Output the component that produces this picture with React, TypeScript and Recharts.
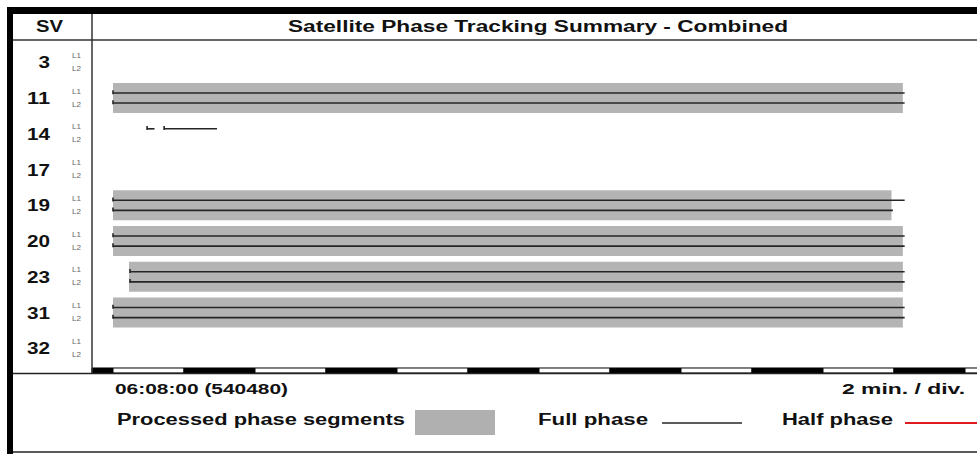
import React from "react";
import { ComposedChart, XAxis, YAxis, ReferenceArea, ReferenceLine } from "recharts";

// satellites listed in the SV column, top to bottom
const svList = [3, 11, 14, 17, 19, 20, 23, 31, 32];

// processed phase segments, minutes after 06:08:00
const processedSv = [11, 19, 20, 23, 31];
const processedStart = [0, 0, 0, 0.45, 0];
const processedEnd = [22.25, 21.93, 22.25, 22.25, 22.25];

// full phase tracking per frequency, minutes after 06:08:00
const fullSv = [11, 11, 14, 14, 19, 19, 20, 20, 23, 23, 31, 31];
const fullBand = ["L1", "L2", "L1", "L1", "L1", "L2", "L1", "L2", "L1", "L2", "L1", "L2"];
const fullStart = [0, 0, 0.96, 1.44, 0, 0, 0, 0, 0.48, 0.48, 0, 0];
const fullEnd = [22.3, 22.3, 1.17, 2.93, 22.3, 21.97, 22.3, 22.3, 22.3, 22.3, 22.3, 22.3];

// half phase tracking (none in this session)
const halfSv: number[] = [];
const halfBand: string[] = [];
const halfStart: number[] = [];
const halfEnd: number[] = [];

// time divisions, 2 minutes each
const timeTicks = [0, 2, 4, 6, 8, 10, 12, 14, 16, 18, 20, 22, 24];
const startLabel = "06:08:00 (540480)";
const divLabel = "2 min. / div.";

const X_DOMAIN: [number, number] = [-0.5915, 24.5635];
const Y_DOMAIN: [number, number] = [-0.596, 8.69];
const STRIP = [8.55, 8.69];
const BAR_HALF = 0.42;
const BAND_OFFSET = 0.14;

const FONT = "'Liberation Sans', Arial, sans-serif";
const INK = "#111";
const SEGMENT_GRAY = "#b4b4b4";

const rowOf = (sv: number) => svList.indexOf(sv);
const bandY = (sv: number, band: string) => rowOf(sv) + (band === "L1" ? -BAND_OFFSET : BAND_OFFSET);

function SvTick({ y, payload }: any) {
  const label = String(svList[payload.value]);
  return (
    <g>
      <text
        x={50}
        y={y + 6}
        textAnchor="end"
        fontFamily={FONT}
        fontWeight="bold"
        fontSize={16}
        fill={INK}
        textLength={label.length * 11.5}
        lengthAdjust="spacingAndGlyphs"
      >
        {label}
      </text>
      <text x={72} y={y - 4.5} fontFamily={FONT} fontSize={7} fill="#666" textLength={9} lengthAdjust="spacingAndGlyphs">
        L1
      </text>
      <text x={72} y={y + 8.5} fontFamily={FONT} fontSize={7} fill="#666" textLength={9} lengthAdjust="spacingAndGlyphs">
        L2
      </text>
    </g>
  );
}

function Label({ x, y, w, size = 16, children }: any) {
  return (
    <text
      x={x}
      y={y}
      fontFamily={FONT}
      fontWeight="bold"
      fontSize={size}
      fill={INK}
      textLength={w}
      lengthAdjust="spacingAndGlyphs"
    >
      {children}
    </text>
  );
}

function phaseLines(sv: number[], band: string[], start: number[], end: number[], color: string, key: string) {
  return sv.flatMap((s, i) => {
    const y = bandY(s, band[i]);
    return [
      <ReferenceLine
        key={`${key}-${i}`}
        segment={[
          { x: start[i], y },
          { x: end[i], y },
        ]}
        stroke={color}
        strokeWidth={1.6}
      />,
      <ReferenceLine
        key={`${key}-tick-${i}`}
        segment={[
          { x: start[i], y: y - 0.08 },
          { x: start[i], y: y + 0.03 },
        ]}
        stroke={color}
        strokeWidth={1.6}
      />,
    ];
  });
}

export default function App() {
  const divisions = [X_DOMAIN[0], ...timeTicks, X_DOMAIN[1]];

  return (
    <div style={{ position: "fixed", left: 0, top: 0, width: 977, height: 454, overflow: "hidden", background: "#fff" }}>
      <ComposedChart width={990} height={454} margin={{ top: 41, right: 5, bottom: 81, left: 13 }}>
        <XAxis type="number" dataKey="x" domain={X_DOMAIN} allowDataOverflow hide />
        <YAxis
          type="number"
          dataKey="y"
          domain={Y_DOMAIN}
          reversed
          allowDataOverflow
          ticks={svList.map((_, i) => i)}
          interval={0}
          width={79}
          axisLine={false}
          tickLine={false}
          tick={<SvTick />}
        />

        {processedSv.map((sv, i) => (
          <ReferenceArea
            key={`seg-${i}`}
            x1={processedStart[i]}
            x2={processedEnd[i]}
            y1={rowOf(sv) - BAR_HALF}
            y2={rowOf(sv) + BAR_HALF}
            fill={SEGMENT_GRAY}
            fillOpacity={1}
            stroke="none"
          />
        ))}

        {phaseLines(fullSv, fullBand, fullStart, fullEnd, "#262626", "full")}
        {phaseLines(halfSv, halfBand, halfStart, halfEnd, "#e01b1b", "half")}

        {/* alternating time-division strip along the bottom */}
        {divisions.slice(0, -1).map((d, i) => (
          <ReferenceArea
            key={`div-${i}`}
            x1={d}
            x2={divisions[i + 1]}
            y1={STRIP[0]}
            y2={STRIP[1]}
            fill={i % 2 === 0 ? "#000" : "#fff"}
            fillOpacity={1}
            stroke="#000"
            strokeWidth={1}
          />
        ))}
      </ComposedChart>

      <svg width={977} height={454} style={{ position: "absolute", left: 0, top: 0, pointerEvents: "none" }}>
        {/* frame */}
        <rect x={7} y={7} width={975} height={7} fill="#000" />
        <rect x={7} y={7} width={6} height={447} fill="#000" />
        <line x1={13} y1={40} x2={977} y2={40} stroke="#333" strokeWidth={1.5} />
        <line x1={92} y1={14} x2={92} y2={373} stroke="#333" strokeWidth={1.5} />
        <line x1={13} y1={373.5} x2={977} y2={373.5} stroke="#222" strokeWidth={1.5} />
        <line x1={13} y1={452} x2={977} y2={452} stroke="#222" strokeWidth={1.5} />

        <Label x={36} y={32} w={27}>SV</Label>
        <Label x={288} y={32} w={500}>Satellite Phase Tracking Summary - Combined</Label>

        <Label x={115} y={394} w={173} size={15}>{startLabel}</Label>
        <Label x={842} y={394} w={123} size={15}>{divLabel}</Label>

        <Label x={117} y={425} w={288}>Processed phase segments</Label>
        <rect x={415} y={410} width={80} height={25} fill="#b0b0b0" />
        <Label x={538} y={425} w={110}>Full phase</Label>
        <line x1={662} y1={423} x2={742} y2={423} stroke="#262626" strokeWidth={1.6} />
        <Label x={782} y={425} w={111}>Half phase</Label>
        <line x1={905} y1={423} x2={990} y2={423} stroke="#e01b1b" strokeWidth={2} />
      </svg>
    </div>
  );
}
